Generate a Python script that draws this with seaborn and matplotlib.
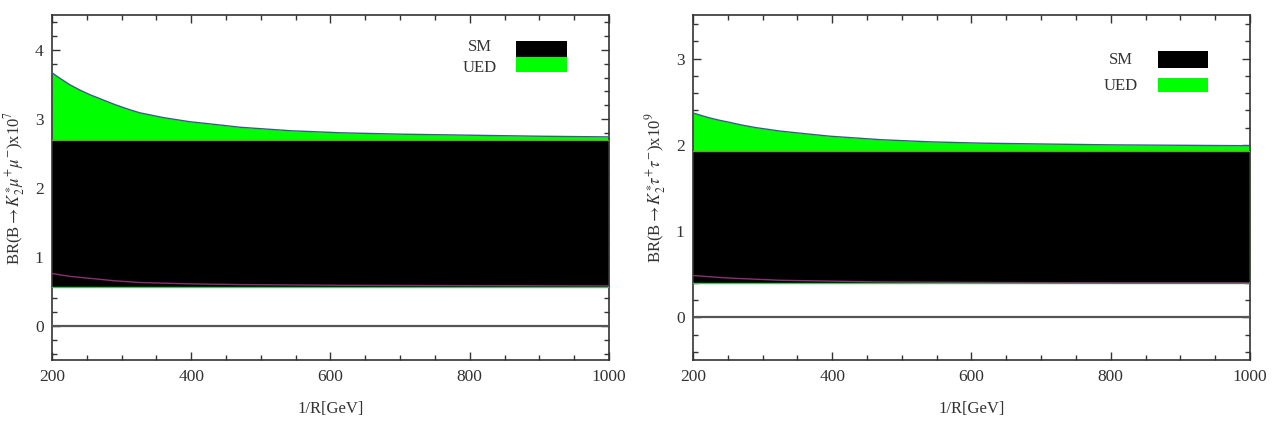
import numpy as np
import pandas as pd
import seaborn as sns
import matplotlib.pyplot as plt
from matplotlib.patches import Rectangle
from matplotlib.ticker import MultipleLocator

# 1/R in GeV
r_mu_hi = [200, 210, 225, 240, 255, 270, 290, 310, 326, 360, 398, 435, 470, 542, 614, 700, 800, 900, 1000]
ued_mu_hi = [3.67, 3.60, 3.50, 3.42, 3.35, 3.29, 3.21, 3.14, 3.09, 3.02, 2.96, 2.92, 2.88, 2.83, 2.80,
             2.78, 2.765, 2.75, 2.74]
r_mu_lo = [200, 225, 255, 290, 326, 400, 470, 614, 800, 1000]
ued_mu_lo = [0.76, 0.72, 0.69, 0.655, 0.63, 0.61, 0.60, 0.59, 0.585, 0.58]
sm_mu = (0.57, 2.69)

r_tau_hi = [200, 212, 225, 238, 253, 270, 290, 325, 360, 397, 469, 540, 612, 700, 800, 900, 1000]
ued_tau_hi = [2.37, 2.34, 2.31, 2.285, 2.26, 2.23, 2.20, 2.16, 2.13, 2.10, 2.06, 2.035, 2.02, 2.01,
              2.0, 1.995, 1.99]
r_tau_lo = [200, 225, 253, 325, 400, 470, 600, 800, 1000]
ued_tau_lo = [0.485, 0.47, 0.455, 0.43, 0.42, 0.41, 0.405, 0.40, 0.40]
sm_tau = (0.40, 1.93)

sns.set_style("ticks")
plt.rcParams['font.family'] = ['Liberation Serif', 'DejaVu Serif']
plt.rcParams['mathtext.fontset'] = 'stix'
plt.rcParams['xtick.direction'] = 'in'
plt.rcParams['ytick.direction'] = 'in'

fig = plt.figure(figsize=(12.73, 4.23), dpi=100)
ax1 = fig.add_axes([0.0408, 0.1478, 0.4376, 0.8156])
ax2 = fig.add_axes([0.5444, 0.1478, 0.4375, 0.8156])

green = '#00ff00'


def panel(ax, r_hi, hi, r_lo, lo, sm, ylim, ylabel, leg):
    df_hi = pd.DataFrame({'r': r_hi, 'br': hi})
    df_lo = pd.DataFrame({'r': r_lo, 'br': lo})
    # UED band
    lo_on_hi = np.interp(r_hi, r_lo, lo)
    ax.fill_between(r_hi, lo_on_hi, hi, color=green, lw=0, zorder=1)
    # SM band
    ax.fill_between([200, 1000], [sm[0]] * 2, [sm[1]] * 2, color='black', lw=0, zorder=2)
    ax.axhline(sm[1], color='#7a9a2a', lw=1.0, zorder=3)
    ax.axhline(sm[0], color='#40c060', lw=1.0, zorder=3)
    sns.lineplot(data=df_hi, x='r', y='br', ax=ax, color='#3a5a8a', lw=1.0, zorder=4)
    sns.lineplot(data=df_lo, x='r', y='br', ax=ax, color='#8a3070', lw=1.0, zorder=4)
    ax.axhline(0, color='#555555', lw=1.6, zorder=3)

    ax.set_xlim(200, 1000)
    ax.set_ylim(*ylim)
    ax.xaxis.set_major_locator(MultipleLocator(200))
    ax.xaxis.set_minor_locator(MultipleLocator(50))
    ax.yaxis.set_major_locator(MultipleLocator(1))
    ax.yaxis.set_minor_locator(MultipleLocator(0.2))
    ax.tick_params(which='both', top=True, right=True, labelsize=12.5, colors='#333333')
    ax.tick_params(which='major', length=6, width=1, pad=6)
    ax.tick_params(which='minor', length=3.5, width=1)
    for s in ax.spines.values():
        s.set_color('#333333')
        s.set_linewidth(1.2)
    ax.set_xlabel('1/R[GeV]', fontsize=12, labelpad=12, color='#333333')
    ax.set_ylabel(ylabel, fontsize=12, labelpad=6, color='#333333')

    # legend boxes
    (x0, x1, ysm0, ysm1, yu0, yu1, tx, tsm, tued) = leg
    ax.add_patch(Rectangle((x0, ysm0), x1 - x0, ysm1 - ysm0, transform=ax.transAxes,
                           color='black', lw=0, zorder=5))
    ax.add_patch(Rectangle((x0, yu0), x1 - x0, yu1 - yu0, transform=ax.transAxes,
                           color=green, lw=0, zorder=5))
    ax.text(tx, tsm, 'SM', transform=ax.transAxes, ha='center', va='center',
            fontsize=12, color='#333333')
    ax.text(tx, tued, 'UED', transform=ax.transAxes, ha='center', va='center',
            fontsize=12, color='#333333')


panel(ax1, r_mu_hi, ued_mu_hi, r_mu_lo, ued_mu_lo, sm_mu, (-0.5, 4.5),
      r'BR(B$\rightarrow K_2^{\ast}\mu^{+}\mu^{-}$)x10$^{7}$',
      (0.833, 0.925, 0.880, 0.926, 0.836, 0.880, 0.768, 0.909, 0.848))
panel(ax2, r_tau_hi, ued_tau_hi, r_tau_lo, ued_tau_lo, sm_tau, (-0.5, 3.5),
      r'BR(B$\rightarrow K_2^{\ast}\tau^{+}\tau^{-}$)x10$^{9}$',
      (0.835, 0.925, 0.849, 0.896, 0.777, 0.820, 0.768, 0.872, 0.797))

fig.savefig('out.png', dpi=100)
